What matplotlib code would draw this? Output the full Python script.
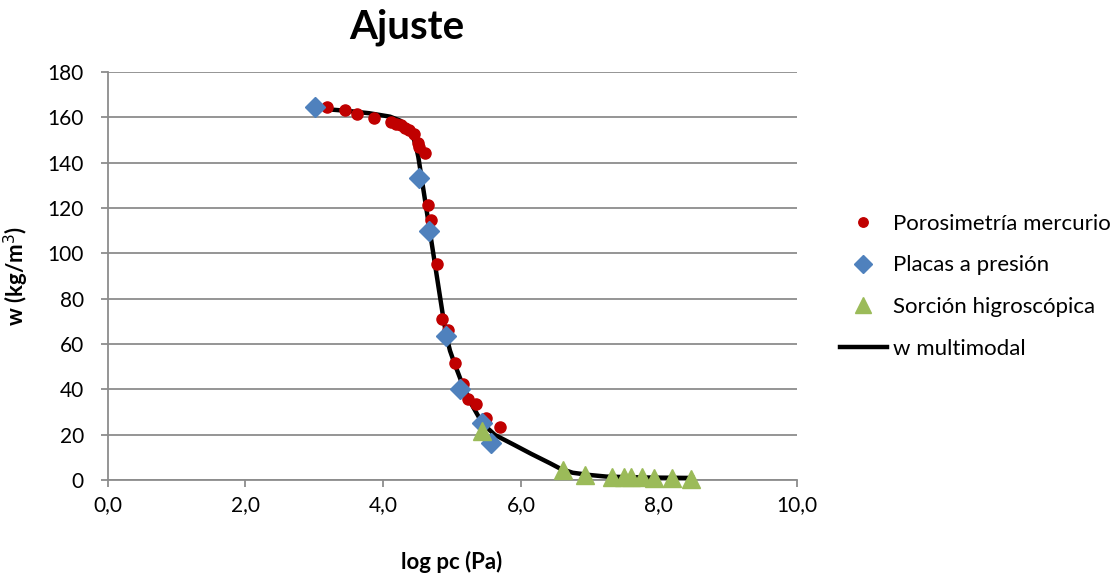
import matplotlib
matplotlib.use("Agg")
import matplotlib.pyplot as plt

# Porosimetría mercurio
hg_x = [3.19, 3.44, 3.62, 3.86, 4.11, 4.19, 4.26, 4.32, 4.37, 4.44, 4.50, 4.52, 4.61,
        4.65, 4.70, 4.78, 4.86, 4.94, 5.04, 5.16, 5.23, 5.34, 5.49, 5.69]
hg_y = [164.7, 163.2, 161.5, 159.8, 157.8, 157.2, 156.5, 155.4, 154.4, 152.6, 148.5, 147.0, 144.4,
        121.3, 114.7, 95.4, 70.9, 66.2, 51.5, 42.3, 35.7, 33.5, 27.5, 23.2]

# Placas a presión
pp_x = [3.01, 4.52, 4.66, 4.91, 5.11, 5.44, 5.56]
pp_y = [164.7, 133.3, 109.8, 63.5, 40.0, 25.0, 16.5]

# Sorción higroscópica
sh_x = [5.44, 6.61, 6.93, 7.32, 7.50, 7.59, 7.75, 7.93, 8.19, 8.46]
sh_y = [21.5, 4.2, 2.2, 1.5, 1.4, 1.3, 1.2, 1.0, 0.8, 0.6]

# w multimodal
wm_x = [3.01, 3.5, 3.8, 4.1, 4.25, 4.35, 4.42, 4.47, 4.51, 4.60, 4.69, 4.78, 4.87, 4.92,
        4.97, 5.04, 5.14, 5.28, 5.44, 5.62, 5.9, 6.15, 6.42, 6.57, 6.75, 7.0, 7.24, 7.8, 8.49]
wm_y = [164.0, 162.8, 161.8, 160.3, 158.5, 156.0, 152.5, 148.0, 142.5, 124.9, 107.2, 89.6, 72.0, 63.1,
        57.0, 51.0, 43.0, 33.5, 25.0, 19.9, 15.5, 11.5, 7.4, 5.0, 3.2, 2.2, 1.5, 1.1, 0.9]

x_ticks = [0, 2, 4, 6, 8, 10]
x_labels = ["0,0", "2,0", "4,0", "6,0", "8,0", "10,0"]
y_ticks = [0, 20, 40, 60, 80, 100, 120, 140, 160, 180]

plt.rcParams['font.family'] = ['Lato', 'DejaVu Sans']

fig = plt.figure(figsize=(11.11, 5.78), dpi=100)
ax = fig.add_axes([107.5 / 1111, 98 / 578, (796.7 - 107.5) / 1111, 408 / 578])

grid_c = "#8c8c8c"
ax.plot(wm_x, wm_y, color="black", lw=3.2, zorder=2, label="w multimodal", clip_on=False)
ax.plot(hg_x, hg_y, "o", color="#C00000", ms=8, mec="#C00000", zorder=3,
        label="Porosimetría mercurio", clip_on=False)
ax.plot(pp_x, pp_y, "D", color="#4F81BD", ms=10.5, mec="#4F81BD", zorder=4,
        label="Placas a presión", clip_on=False)
ax.plot(sh_x, sh_y, "^", color="#9BBB59", ms=13, mec="#9BBB59", zorder=5,
        label="Sorción higroscópica", clip_on=False)

ax.set_xlim(0, 10)
ax.set_ylim(0, 180)
ax.set_xticks(x_ticks)
ax.set_xticklabels(x_labels)
ax.set_yticks(y_ticks)
ax.yaxis.grid(True, color=grid_c, lw=1.3)
ax.set_axisbelow(True)
for s in ["top", "right"]:
    ax.spines[s].set_visible(False)
for s in ["left", "bottom"]:
    ax.spines[s].set_color(grid_c)
    ax.spines[s].set_linewidth(1.3)
    ax.spines[s].set_zorder(1)
ax.tick_params(axis="both", direction="out", length=5, width=1.3, color=grid_c,
               labelsize=15)
ax.tick_params(axis="x", pad=6)
ax.tick_params(axis="y", pad=12)

fig.text(407 / 1111, (578 - 38) / 578, "Ajuste", fontsize=29, fontweight="bold",
         ha="center", va="baseline")
ax.set_xlabel("log pc (Pa)", fontsize=16, fontweight="bold", labelpad=26)
ax.set_ylabel("w (kg/m$^3$)", fontsize=16, fontweight="bold", labelpad=12)

handles, labels = ax.get_legend_handles_labels()
order = [1, 2, 3, 0]
leg = ax.legend([handles[i] for i in order], [labels[i] for i in order],
                loc="center left", bbox_to_anchor=(1.063, 0.475), frameon=False,
                fontsize=16, handlelength=2.1, labelspacing=0.97, handletextpad=0.3,
                borderpad=0, borderaxespad=0, markerscale=0.85)

fig.savefig("out.png", dpi=100)
